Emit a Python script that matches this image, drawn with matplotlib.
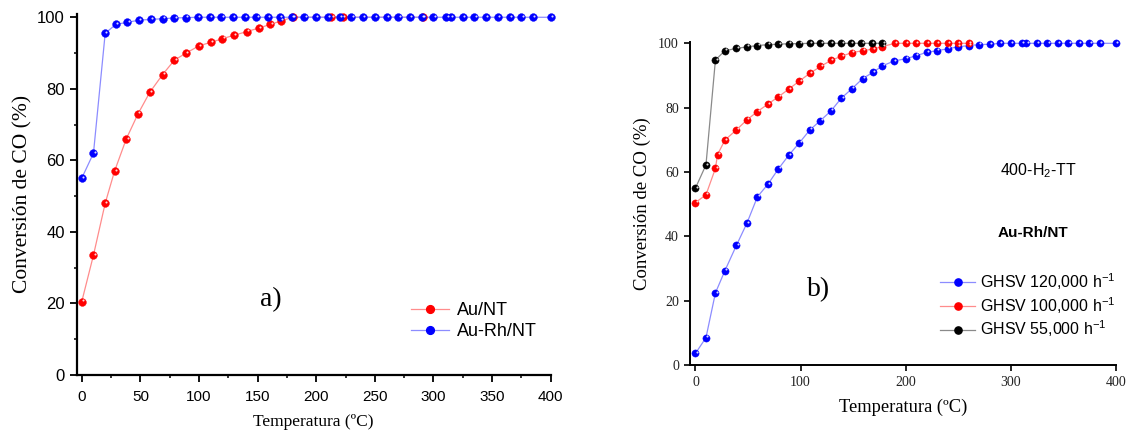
import matplotlib
matplotlib.use("Agg")
import matplotlib.pyplot as plt
from matplotlib.transforms import offset_copy
from matplotlib.ticker import MultipleLocator

# ---------------- data ----------------
# panel a)
a_au_x = [0, 10, 20, 28, 38, 48, 58, 69, 79, 89, 100, 110, 120, 130, 141, 151, 161, 170, 180, 213, 223, 291]
a_au_y = [20.5, 33.5, 48, 57, 66, 73, 79, 84, 88, 90, 92, 93, 94, 95, 96, 97, 98, 99, 100, 100, 100, 100]

a_aurh_x = [0, 10, 20, 29, 39, 49, 59, 69, 79, 89, 99, 109, 119, 129, 139, 149, 159, 169, 179, 190,
            200, 210, 220, 230, 240, 250, 260, 270, 280, 290, 300, 311, 315, 325, 335, 345, 355, 365,
            375, 385, 400]
a_aurh_y = [55, 62, 95.5, 98, 98.6, 99.2, 99.4, 99.6, 99.8, 99.9] + [100] * 31

# panel b)
b_120_x = [0, 10, 19, 28, 39, 49, 59, 69, 79, 89, 99, 109, 119, 129, 139, 149, 159, 169, 178, 189,
           200, 210, 220, 230, 240, 250, 260, 270, 280, 290, 300, 311, 315, 325, 335, 345, 355, 365,
           375, 385, 400]
b_120_y = [3.6, 8.5, 22.4, 29.3, 37.2, 44.1, 52.3, 56.2, 61, 65.3,
           69.1, 73.1, 76, 79, 83, 85.9, 89, 91, 93, 94.5,
           95.2, 96.1, 97.2, 97.7, 98.3, 98.9, 99.3, 99.6, 99.7] + [100] * 12

b_100_x = [0, 10, 19, 21, 28, 39, 49, 59, 69, 79, 89, 99, 109, 119, 129, 139, 149, 159, 169, 178,
           190, 200, 210, 220, 230, 240, 250, 260]
b_100_y = [50.5, 52.9, 61.1, 65.4, 69.9, 73.1, 76.2, 78.8, 81.1, 83.4, 85.8, 88.3, 90.7, 92.8, 94.7,
           96, 97.1, 97.7, 98.2, 99] + [100] * 8

b_55_x = [0, 10, 19, 28, 39, 49, 59, 69, 79, 89, 99, 109, 119, 129, 139, 148, 158, 168, 178]
b_55_y = [55, 62.2, 94.8, 97.7, 98.4, 98.9, 99.3, 99.6, 99.7, 99.9, 99.9, 100, 100, 100, 100, 100, 100, 100, 100]

a_labels = ["Au/NT", "Au-Rh/NT"]
b_labels = [r"GHSV 120,000 h$\mathregular{^{-1}}$",
            r"GHSV 100,000 h$\mathregular{^{-1}}$",
            r"GHSV 55,000 h$\mathregular{^{-1}}$"]

SANS = "Liberation Sans"
SERIF = "Liberation Serif"

W, H = 1126, 432
fig = plt.figure(figsize=(W / 100, H / 100), dpi=100)


def px_axes(l, r, b, t):
    return fig.add_axes([l / W, 1 - b / H, (r - l) / W, (b - t) / H])


def ball_series(ax, x, y, mcol, lcol, label, ms=5.6):
    ax.plot(x, y, '-', color=lcol, lw=0.9, zorder=2, clip_on=False)
    ax.plot(x, y, 'o', color=mcol, ms=ms, mec=mcol, mew=0.3, zorder=3, clip_on=False)
    tr = offset_copy(ax.transData, fig=fig, x=0.9, y=1.0, units='points')
    ax.plot(x, y, 'o', color='white', ms=1.5, mew=0, alpha=0.85, transform=tr, zorder=4, clip_on=False)
    proxy, = ax.plot([], [], '-', color=lcol, lw=0.9, marker='o', ms=ms, mfc=mcol, mec=mcol, label=label)
    return proxy


# ---------------- panel a ----------------
ax1 = px_axes(76.7, 550.7, 375, 13.7)
ax1.set_xlim(-4.3, 400)
ax1.set_ylim(0, 101)
p1 = ball_series(ax1, a_au_x, a_au_y, '#ff0000', '#ff8c8c', a_labels[0])
p2 = ball_series(ax1, a_aurh_x, a_aurh_y, '#0000ff', '#8c8cff', a_labels[1])
ax1.spines['top'].set_visible(False)
ax1.spines['right'].set_visible(False)
for s in ['left', 'bottom']:
    ax1.spines[s].set_linewidth(1.6)
ax1.xaxis.set_major_locator(MultipleLocator(50))
ax1.xaxis.set_minor_locator(MultipleLocator(25))
ax1.yaxis.set_minor_locator(MultipleLocator(10))
ax1.set_yticks([0, 20, 40, 60, 80, 100])
ax1.tick_params(which='major', direction='out', length=5, width=1.3)
ax1.tick_params(which='minor', direction='out', length=2.5, width=1.1)
for lab in ax1.get_xticklabels():
    lab.set_fontfamily(SANS); lab.set_fontsize(11)
for lab in ax1.get_yticklabels():
    lab.set_fontfamily(SANS); lab.set_fontsize(12)
ax1.tick_params(axis='x', pad=6)
ax1.set_xlabel("Temperatura (ºC)", fontfamily=SERIF, fontsize=12.5, labelpad=7)
ax1.set_ylabel("Conversión de CO (%)", fontfamily=SERIF, fontsize=15.5, labelpad=3)
fig.text(270.7 / W, 1 - 300 / H, "a)", fontfamily=SERIF, fontsize=20, ha='center', va='center')
fig.legend(handles=[p1, p2], loc='upper left', bbox_to_anchor=(410.7 / W, 1 - 302 / H),
           frameon=False, prop={'family': SANS, 'size': 13}, handlelength=2.1,
           handletextpad=0.45, labelspacing=0.22, borderpad=0, borderaxespad=0)

# ---------------- panel b ----------------
ax2 = px_axes(690, 1115.7, 365, 41.7)
ax2.set_xlim(-5.2, 400)
ax2.set_ylim(0, 100.5)
q1 = ball_series(ax2, b_120_x, b_120_y, '#0000ff', '#8c8cff', b_labels[0], ms=5.2)
q2 = ball_series(ax2, b_100_x, b_100_y, '#ff0000', '#ff8c8c', b_labels[1], ms=5.2)
q3 = ball_series(ax2, b_55_x, b_55_y, '#000000', '#8a8a8a', b_labels[2], ms=5.2)
ax2.spines['top'].set_visible(False)
ax2.spines['right'].set_visible(False)
for s in ['left', 'bottom']:
    ax2.spines[s].set_linewidth(1.4)
ax2.set_xticks([0, 100, 200, 300, 400])
ax2.set_yticks([0, 20, 40, 60, 80, 100])
ax2.tick_params(which='major', direction='out', length=4.5, width=1.2, labelcolor='#222222')
for lab in ax2.get_xticklabels() + ax2.get_yticklabels():
    lab.set_fontfamily(SERIF); lab.set_fontsize(10)
ax2.set_xlabel("Temperatura (ºC)", fontfamily=SERIF, fontsize=13.3, labelpad=7)
ax2.set_ylabel("Conversión de CO (%)", fontfamily=SERIF, fontsize=13.5, labelpad=5)
fig.text(819 / W, 1 - 290 / H, "b)", fontfamily=SERIF, fontsize=20, ha='center', va='center')
fig.text(1038 / W, 1 - 170.7 / H, r"400-H$\mathregular{_2}$-TT", fontfamily=SANS, fontsize=11.5,
         ha='center', va='center')
fig.text(1032.8 / W, 1 - 232.7 / H, "Au-Rh/NT", fontfamily=SANS, fontsize=11, fontweight='bold',
         ha='center', va='center')
fig.legend(handles=[q1, q2, q3], loc='upper left', bbox_to_anchor=(940 / W, 1 - 271 / H),
           frameon=False, prop={'family': SANS, 'size': 11.5}, handlelength=2.2,
           handletextpad=0.3, labelspacing=0.2, borderpad=0, borderaxespad=0)

fig.savefig("out.png", dpi=100)
